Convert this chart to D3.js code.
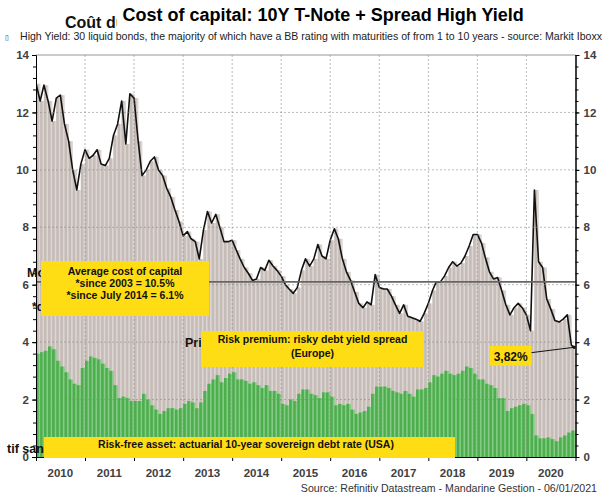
<!DOCTYPE html>
<html>
<head>
<meta charset="utf-8">
<script src="https://cdn.jsdelivr.net/npm/d3@7"></script>
<style>
    body { margin: 0; background: #fff; }
    svg { display: block; font-family: "Liberation Sans", Arial, sans-serif; }
</style>
</head>
<body>
<div id="chart"></div>
<script>
// Monthly values, Jan 2010 -> Dec 2020
const START_YEAR = 2010;

// Cost of capital = 10Y T-Note + High Yield spread (%)
const costOfCapital = [
    13.0, 12.4, 12.95, 12.4, 11.7, 12.5, 12.6, 11.6, 11.0, 10.0, 9.3, 10.2,
    10.7, 10.4, 10.5, 10.7, 10.2, 10.15, 10.4, 11.2, 11.6, 12.4, 10.9, 12.65,
    12.5, 11.0, 9.8, 10.0, 10.3, 10.45, 10.0, 9.8, 9.35, 9.05, 8.6, 8.2,
    7.7, 7.85, 7.6, 7.5, 6.9, 7.9, 8.55, 8.15, 8.45, 8.0, 7.5, 7.5,
    7.55, 7.2, 6.9, 6.6, 6.4, 6.15, 6.2, 6.6, 6.5, 6.85, 6.65, 6.5,
    6.3, 6.0, 5.85, 5.7, 5.9, 6.5, 6.9, 6.65, 6.9, 7.4, 7.0, 6.9,
    7.55, 7.95, 7.6, 6.9, 6.45, 6.15, 5.75, 5.35, 5.2, 5.4, 5.3, 6.35,
    5.9, 5.85, 5.85, 5.6, 5.3, 5.0, 5.3, 4.9, 4.85, 4.8, 4.72, 5.0,
    5.35, 5.8, 6.1, 6.1, 6.3, 6.6, 6.8, 6.65, 6.75, 7.0, 7.35, 7.75,
    7.75, 7.45, 6.95, 6.45, 6.2, 6.25, 5.8, 5.3, 4.95, 5.2, 5.35, 5.2,
    4.95, 4.4, 9.3, 6.8, 6.6, 5.5, 5.15, 4.75, 4.7, 4.8, 4.95, 3.9
];

// Risk-free asset: US 10-year yield (%)
const tNote10y = [
    3.6, 3.65, 3.7, 3.85, 3.75, 3.35, 3.15, 2.95, 2.7, 2.55, 2.5, 3.1,
    3.35, 3.5, 3.45, 3.4, 3.25, 3.1, 3.0, 2.5, 2.05, 2.1, 2.05, 1.95,
    1.95, 1.95, 2.2, 2.0, 1.8, 1.65, 1.5, 1.6, 1.7, 1.7, 1.65, 1.7,
    1.85, 1.95, 1.9, 1.7, 1.9, 2.3, 2.55, 2.7, 2.85, 2.6, 2.75, 2.9,
    2.95, 2.7, 2.7, 2.65, 2.55, 2.6, 2.5, 2.4, 2.5, 2.3, 2.3, 2.2,
    1.85, 1.8, 2.0, 1.95, 2.2, 2.35, 2.35, 2.2, 2.15, 2.05, 2.25, 2.25,
    2.1, 1.8, 1.85, 1.8, 1.85, 1.65, 1.5, 1.55, 1.6, 1.75, 2.2, 2.45,
    2.45, 2.45, 2.4, 2.3, 2.25, 2.2, 2.3, 2.2, 2.1, 2.35, 2.35, 2.4,
    2.6, 2.85, 2.8, 2.9, 3.0, 2.9, 2.85, 2.9, 3.0, 3.15, 3.1, 2.9,
    2.7, 2.7, 2.55, 2.5, 2.4, 2.05, 2.05, 1.6, 1.7, 1.75, 1.8, 1.85,
    1.8, 1.5, 0.75, 0.65, 0.65, 0.68, 0.62, 0.55, 0.68, 0.75, 0.85, 0.92
];

// Last print (early January 2021)
const lastDate = "2020-12-22";
const lastCost = 3.82;
const lastTNote = 0.93;
const lastLabel = "3,82%";

const avgSinceJuly2014 = 6.1;

const yearLabels = ["2010", "2011", "2012", "2013", "2014", "2015", "2016", "2017", "2018", "2019", "2020"];
const yTickLabels = [0, 2, 4, 6, 8, 10, 12, 14];

const COLORS = {
    grayDark: '#c5bbb7',
    grayLight: '#ddd6d3',
    greenDark: '#4cae4c',
    greenLight: '#86cc86',
    line: '#111',
    avg: '#666',
    yellow: '#ffdd15',
    label: '#404040'
};

// Setup SVG
const W = 609, H = 497;
const margin = {top: 55, right: 33.5, bottom: 40, left: 36};
const width = W - margin.left - margin.right;
const height = H - margin.top - margin.bottom;

const root = d3.select('#chart')
    .append('svg')
    .attr('width', W)
    .attr('height', H);

const svg = root.append('g')
    .attr('transform', 'translate(' + margin.left + ',' + margin.top + ')');

// Build series
const dates = costOfCapital.map((d, i) => new Date(START_YEAR, i, 1));
const endDate = new Date(START_YEAR + yearLabels.length, 0, 1);
const monthly = dates.map((d, i) => ({
    date: d,
    next: i < dates.length - 1 ? dates[i + 1] : endDate,
    cost: costOfCapital[i],
    tnote: tNote10y[i]
}));
const linePoints = monthly.map(d => ({date: d.date, cost: d.cost}))
    .concat([{date: d3.isoParse(lastDate), cost: lastCost}]);

// Scales
const x = d3.scaleTime()
    .domain([new Date(START_YEAR, 0, 1), endDate])
    .range([0, width]);
const y = d3.scaleLinear()
    .domain([0, 14])
    .range([height, 0]);

// Clip
svg.append('defs').append('clipPath')
    .attr('id', 'clip')
    .append('rect')
    .attr('width', width)
    .attr('height', height);

const plot = svg.append('g').attr('clip-path', 'url(#clip)');

// Bars: cost of capital (gray) with light gaps
plot.append('g').selectAll('rect')
    .data(monthly)
    .join('rect')
    .attr('x', d => x(d.date))
    .attr('width', d => x(d.next) - x(d.date) + 0.3)
    .attr('y', d => y(d.cost))
    .attr('height', d => height - y(d.cost))
    .attr('fill', COLORS.grayLight);
plot.append('g').selectAll('rect')
    .data(monthly)
    .join('rect')
    .attr('x', d => x(d.date))
    .attr('width', d => (x(d.next) - x(d.date)) * 0.62)
    .attr('y', d => y(d.cost))
    .attr('height', d => height - y(d.cost))
    .attr('fill', COLORS.grayDark);

// Bars: 10Y T-Note (green)
plot.append('g').selectAll('rect')
    .data(monthly)
    .join('rect')
    .attr('x', d => x(d.date))
    .attr('width', d => x(d.next) - x(d.date) + 0.3)
    .attr('y', d => y(d.tnote))
    .attr('height', d => height - y(d.tnote))
    .attr('fill', COLORS.greenLight);
plot.append('g').selectAll('rect')
    .data(monthly)
    .join('rect')
    .attr('x', d => x(d.date))
    .attr('width', d => (x(d.next) - x(d.date)) * 0.62)
    .attr('y', d => y(d.tnote))
    .attr('height', d => height - y(d.tnote))
    .attr('fill', COLORS.greenDark);

// Grid
const years = d3.timeYear.range(new Date(START_YEAR + 1, 0, 1), endDate);
svg.append('g').selectAll('line')
    .data(years)
    .join('line')
    .attr('x1', d => x(d)).attr('x2', d => x(d))
    .attr('y1', 0).attr('y2', height)
    .attr('stroke', '#8c8c8c')
    .attr('stroke-opacity', 0.6)
    .attr('stroke-dasharray', '2,2');
svg.append('g').selectAll('line')
    .data(yTickLabels.filter(v => v > 0))
    .join('line')
    .attr('x1', 0).attr('x2', width)
    .attr('y1', d => y(d)).attr('y2', d => y(d))
    .attr('stroke', '#8c8c8c')
    .attr('stroke-opacity', d => d === 14 ? 0.9 : 0.6)
    .attr('stroke-dasharray', d => d === 14 ? null : '2,2');

// Average line since July 2014
svg.append('line')
    .attr('x1', 0).attr('x2', width)
    .attr('y1', y(avgSinceJuly2014)).attr('y2', y(avgSinceJuly2014))
    .attr('stroke', COLORS.avg)
    .attr('stroke-width', 1.6);

// Cost of capital line
plot.append('path')
    .datum(linePoints)
    .attr('fill', 'none')
    .attr('stroke', COLORS.line)
    .attr('stroke-width', 1.6)
    .attr('stroke-linejoin', 'round')
    .attr('d', d3.line().x(d => x(d.date)).y(d => y(d.cost)));

// Axes
const minorTicks = d3.range(0, 14.001, 0.4).map(v => +v.toFixed(1));
function styleAxis(g) {
    g.select('.domain').attr('stroke', '#000');
    g.selectAll('.tick line').attr('stroke', '#000');
    g.selectAll('text')
        .attr('fill', COLORS.label)
        .style('font-size', '11.5px')
        .style('font-weight', 'bold');
}
svg.append('g')
    .call(d3.axisLeft(y).tickValues(minorTicks).tickSize(3).tickSizeOuter(0).tickFormat(''))
    .call(styleAxis);
svg.append('g')
    .call(d3.axisLeft(y).tickValues(yTickLabels).tickSize(4).tickSizeOuter(0).tickPadding(3).tickFormat(d3.format('d')))
    .call(styleAxis);
svg.append('g')
    .attr('transform', 'translate(' + width + ',0)')
    .call(d3.axisRight(y).tickValues(minorTicks).tickSize(3).tickSizeOuter(0).tickFormat(''))
    .call(styleAxis);
svg.append('g')
    .attr('transform', 'translate(' + width + ',0)')
    .call(d3.axisRight(y).tickValues(yTickLabels).tickSize(4).tickSizeOuter(0).tickPadding(4).tickFormat(d3.format('d')))
    .call(styleAxis);
svg.append('g')
    .attr('transform', 'translate(0,' + height + ')')
    .call(d3.axisBottom(x).ticks(d3.timeYear).tickSize(4).tickSizeOuter(0).tickFormat(''))
    .call(styleAxis);
svg.append('g').selectAll('text')
    .data(yearLabels)
    .join('text')
    .attr('x', d => x(new Date(+d, 6, 1)))
    .attr('y', height + 20)
    .attr('text-anchor', 'middle')
    .attr('fill', COLORS.label)
    .style('font-size', '11.5px')
    .style('font-weight', 'bold')
    .text(d => d);

// French labels partly hidden under the English overlays
const hidden = root.append('g').attr('fill', '#111').style('font-weight', 'bold');
hidden.append('text').attr('x', 65).attr('y', 28).style('font-size', '16px').text('Coût du');
hidden.append('text').attr('x', 27).attr('y', 277).style('font-size', '12.5px').text('Moyenne du coût');
hidden.append('text').attr('x', 32).attr('y', 311).style('font-size', '12px').text('*depuis 2003');
hidden.append('text').attr('x', 185).attr('y', 347).style('font-size', '12.5px').text('Prime de risque');
hidden.append('text').attr('x', 7).attr('y', 453).style('font-size', '12.5px').text('tif sans risque');

// Title and subtitle
root.append('rect').attr('x', 117).attr('y', 0).attr('width', 422).attr('height', 29).attr('fill', '#fff');
root.append('text')
    .attr('x', 122.5).attr('y', 21)
    .style('font-size', '18px')
    .style('font-weight', 'bold')
    .attr('fill', '#000')
    .text('Cost of capital: 10Y T-Note + Spread High Yield');
root.append('text')
    .attr('x', 5).attr('y', 40)
    .style('font-size', '7px')
    .attr('fill', '#333')
    .text('\u25AF');
root.append('text')
    .attr('x', 20).attr('y', 40)
    .style('font-size', '11px')
    .attr('textLength', 582)
    .attr('lengthAdjust', 'spacingAndGlyphs')
    .attr('fill', '#222')
    .text('High Yield: 30 liquid bonds, the majority of which have a BB rating with maturities of from 1 to 10 years - source: Markit Iboxx');

// Yellow annotation boxes
function box(bx, by, bw, bh, lines, cx, baselines, size) {
    const g = root.append('g');
    g.append('rect')
        .attr('x', bx).attr('y', by)
        .attr('width', bw).attr('height', bh)
        .attr('fill', COLORS.yellow);
    lines.forEach(function (t, i) {
        g.append('text')
            .attr('x', cx).attr('y', baselines[i])
            .attr('text-anchor', 'middle')
            .style('font-size', size)
            .style('font-weight', 'bold')
            .attr('fill', '#111')
            .text(t);
    });
}
box(41, 261, 168, 55, ['Average cost of capital', '*since 2003 = 10.5%', '*since July 2014 = 6.1%'],
    125, [274.8, 287.3, 298.5], '10.5px');
box(201, 331, 223, 36, ['Risk premium: risky debt yield spread', '(Europe)'],
    312.5, [343, 357], '10.5px');
box(44, 437, 411, 21, ['Risk-free asset: actuarial 10-year sovereign debt rate (USA)'],
    246, [447.5], '10.5px');

// Last value label
const endX = margin.left + x(d3.isoParse(lastDate));
const endY = margin.top + y(lastCost);
root.append('line')
    .attr('x1', 531).attr('y1', 352.7)
    .attr('x2', endX).attr('y2', endY)
    .attr('stroke', '#111')
    .attr('stroke-width', 1);
root.append('circle')
    .attr('cx', endX).attr('cy', endY).attr('r', 1.6)
    .attr('fill', '#111');
box(490, 346, 41.5, 19.5, [lastLabel], 510.7, [361], '12px');

// Source
root.append('text')
    .attr('x', 597).attr('y', 492)
    .attr('text-anchor', 'end')
    .style('font-size', '10.6px')
    .attr('fill', '#333')
    .text('Source: Refinitiv Datastream - Mandarine Gestion - 06/01/2021');
</script>
</body>
</html>
